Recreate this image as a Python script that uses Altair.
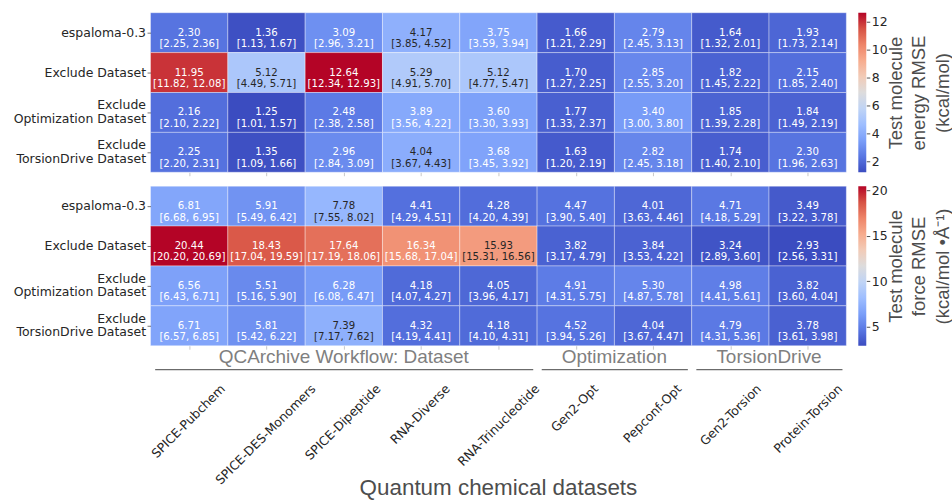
import altair as alt
import pandas as pd
import numpy as np

datasets = ["SPICE-Pubchem", "SPICE-DES-Monomers", "SPICE-Dipeptide", "RNA-Diverse",
            "RNA-Trinucleotide", "Gen2-Opt", "Pepconf-Opt", "Gen2-Torsion", "Protein-Torsion"]
models = ["espaloma-0.3", "Exclude Dataset", "Exclude\nOptimization Dataset", "Exclude\nTorsionDrive Dataset"]

group_names = ["QCArchive Workflow: Dataset", "Optimization", "TorsionDrive"]
group_start = [0, 5, 7]
group_end = [5, 7, 9]

energy_mean = [
    [2.30, 1.36, 3.09, 4.17, 3.75, 1.66, 2.79, 1.64, 1.93],
    [11.95, 5.12, 12.64, 5.29, 5.12, 1.70, 2.85, 1.82, 2.15],
    [2.16, 1.25, 2.48, 3.89, 3.60, 1.77, 3.40, 1.85, 1.84],
    [2.25, 1.35, 2.96, 4.04, 3.68, 1.63, 2.82, 1.74, 2.30],
]
energy_lo = [
    [2.25, 1.13, 2.96, 3.85, 3.59, 1.21, 2.45, 1.32, 1.73],
    [11.82, 4.49, 12.34, 4.91, 4.77, 1.27, 2.55, 1.45, 1.85],
    [2.10, 1.01, 2.38, 3.56, 3.30, 1.33, 3.00, 1.39, 1.49],
    [2.20, 1.09, 2.84, 3.67, 3.45, 1.20, 2.45, 1.40, 1.96],
]
energy_hi = [
    [2.36, 1.67, 3.21, 4.52, 3.94, 2.29, 3.13, 2.01, 2.14],
    [12.08, 5.71, 12.93, 5.70, 5.47, 2.25, 3.20, 2.22, 2.40],
    [2.22, 1.57, 2.58, 4.22, 3.93, 2.37, 3.80, 2.28, 2.19],
    [2.31, 1.66, 3.09, 4.43, 3.92, 2.19, 3.18, 2.10, 2.63],
]
force_mean = [
    [6.81, 5.91, 7.78, 4.41, 4.28, 4.47, 4.01, 4.71, 3.49],
    [20.44, 18.43, 17.64, 16.34, 15.93, 3.82, 3.84, 3.24, 2.93],
    [6.56, 5.51, 6.28, 4.18, 4.05, 4.91, 5.30, 4.98, 3.82],
    [6.71, 5.81, 7.39, 4.32, 4.18, 4.52, 4.04, 4.79, 3.78],
]
force_lo = [
    [6.68, 5.49, 7.55, 4.29, 4.20, 3.90, 3.63, 4.18, 3.22],
    [20.20, 17.04, 17.19, 15.68, 15.31, 3.17, 3.53, 2.89, 2.56],
    [6.43, 5.16, 6.08, 4.07, 3.96, 4.31, 4.87, 4.41, 3.60],
    [6.57, 5.42, 7.17, 4.19, 4.10, 3.94, 3.67, 4.31, 3.61],
]
force_hi = [
    [6.95, 6.42, 8.02, 4.51, 4.39, 5.40, 4.46, 5.29, 3.78],
    [20.69, 19.59, 18.06, 17.04, 16.56, 4.79, 4.22, 3.60, 3.31],
    [6.71, 5.90, 6.47, 4.27, 4.17, 5.75, 5.78, 5.61, 4.04],
    [6.85, 6.22, 7.62, 4.41, 4.31, 5.26, 4.47, 5.36, 3.98],
]

energy_ticks = [2, 4, 6, 8, 10, 12]
force_ticks = [5, 10, 15, 20]
energy_title = ["Test molecule", "energy RMSE", "(kcal/mol)"]
force_title = ["Test molecule", "force RMSE", "(kcal/mol \u2022\u00c5\u207b\u00b9)"]
x_title = "Quantum chemical datasets"

# ---------------- styling helpers ----------------
COOLWARM = ["#3b4cc0", "#5977e3", "#7b9ff9", "#9ebeff", "#c0d4f5", "#dddcdc",
            "#f2cbb7", "#f7ac8e", "#ee8468", "#d65244", "#b40426"]
W, H = 698, 160
NCOL = len(datasets)
LABEL_FS = 12.5


def hex2rgb(h):
    return [int(h[i:i + 2], 16) / 255 for i in (1, 3, 5)]


def cmap(t):
    t = min(max(t, 0.0), 1.0) * (len(COOLWARM) - 1)
    i = min(int(t), len(COOLWARM) - 2)
    f = t - i
    a, b = hex2rgb(COOLWARM[i]), hex2rgb(COOLWARM[i + 1])
    return [a[k] + (b[k] - a[k]) * f for k in range(3)]


def text_color(v, vmin, vmax):
    rgb = cmap((v - vmin) / (vmax - vmin))
    lin = [c / 12.92 if c <= 0.03928 else ((c + 0.055) / 1.055) ** 2.4 for c in rgb]
    lum = 0.2126 * lin[0] + 0.7152 * lin[1] + 0.0722 * lin[2]
    return "#262626" if lum > 0.408 else "#ffffff"


# DejaVu Sans advance widths (em) to centre rotated labels like matplotlib
CW = {"A": .684, "C": .698, "D": .770, "E": .632, "G": .775, "I": .295, "M": .863, "N": .748,
      "O": .787, "P": .603, "R": .695, "S": .635, "T": .611, "2": .636, "-": .361, "b": .635,
      "c": .550, "d": .635, "e": .615, "f": .352, "h": .634, "i": .278, "l": .278, "m": .974,
      "n": .634, "o": .612, "p": .635, "r": .411, "s": .521, "t": .392, "u": .634, "v": .592}


def build_df(mean, lo, hi):
    vals = np.array(mean)
    vmin, vmax = float(vals.min()), float(vals.max())
    rows = []
    for r, m in enumerate(models):
        for c, d in enumerate(datasets):
            v = mean[r][c]
            rows.append(dict(model=m, x0=c, x1=c + 1, xc=c + 0.5, v=v,
                             label=f"{v:.2f}\n[{lo[r][c]:.2f}, {hi[r][c]:.2f}]",
                             tc=text_color(v, vmin, vmax)))
    return pd.DataFrame(rows), vmin, vmax


xs = alt.Scale(domain=[0, NCOL], nice=False, zero=False)
XAXIS = alt.Axis(values=[i + 0.5 for i in range(NCOL)], labels=False, ticks=True, tickSize=3.5,
                 tickColor="#c8c8c8", domain=False, grid=False, title=None)
YAXIS = alt.Axis(title=None, labelExpr="split(datum.label, '\\n')", labelFont="DejaVu Sans",
                 labelFontSize=LABEL_FS, labelColor="#262626", labelLineHeight=13.5,
                 labelOffset={"condition": {"test": "indexof(datum.value, '\\n') >= 0", "value": -7},
                              "value": 0},
                 tickSize=3.5, tickColor="#555555", tickWidth=0.8, domain=False,
                 labelPadding=1.5, labelLimit=400, grid=False)


def heatmap_layers(df, vmin, vmax):
    base = alt.Chart(df)
    stops = list(np.linspace(vmin, vmax, len(COOLWARM)))
    rect = base.mark_rect(stroke="white", strokeWidth=0.8, strokeOpacity=0.45).encode(
        x=alt.X("x0:Q", scale=xs, axis=XAXIS),
        x2="x1:Q",
        y=alt.Y("model:N", sort=models, axis=YAXIS),
        color=alt.Color("v:Q", scale=alt.Scale(domain=stops, range=COOLWARM, interpolate="rgb"),
                        legend=None),
    )
    text = base.transform_calculate(lines="split(datum.label, '\\n')").mark_text(
        font="DejaVu Sans", fontSize=10.2, lineHeight=11.5, baseline="middle", align="center"
    ).encode(
        x=alt.X("xc:Q", scale=xs, axis=XAXIS),
        y=alt.Y("model:N", sort=models, axis=YAXIS),
        text="lines:N",
        color=alt.Color("tc:N", scale=None),
    )
    return [rect, text]


def colorbar(vmin, vmax, ticks, title):
    d = pd.DataFrame({"lo": [vmin], "hi": [vmax]})
    grad = alt.LinearGradient(
        gradient="linear",
        stops=[alt.GradientStop(color=c, offset=i / (len(COOLWARM) - 1)) for i, c in enumerate(COOLWARM)],
        x1=0, x2=0, y1=1, y2=0)
    return alt.Chart(d).mark_rect(color=grad).encode(
        x=alt.value(0), x2=alt.value(8),
        y=alt.Y("lo:Q", scale=alt.Scale(domain=[vmin, vmax], nice=False, zero=False),
                axis=alt.Axis(orient="right", values=ticks, title=title, titleAngle=270,
                              titleBaseline="top", titleAlign="center",
                              titleX=20, titleY=H / 2,
                              titleFont="Liberation Sans", titleFontSize=18.5,
                              titleFontWeight="normal", titleColor="#4d4d4d", titleLineHeight=23.5,
                              labelFont="DejaVu Sans", labelFontSize=LABEL_FS,
                              labelColor="#262626", tickSize=3.5, tickColor="#262626",
                              tickWidth=0.8, domain=False, grid=False, labelPadding=1.5)),
        y2="hi:Q",
    ).properties(width=8, height=H)


e_df, e_min, e_max = build_df(energy_mean, energy_lo, energy_hi)
f_df, f_min, f_max = build_df(force_mean, force_lo, force_hi)

# group annotations under the lower panel
g_df = pd.DataFrame({"name": group_names, "start": group_start, "end": group_end})
g_df["mid"] = (g_df["start"] + g_df["end"]) / 2
g_df["lo"] = g_df["start"] + 0.06
g_df["hi"] = g_df["end"] - 0.05

grp_text = alt.Chart(g_df).mark_text(font="Liberation Sans", fontSize=19, color="#7f7f7f",
                                     baseline="middle").encode(
    x=alt.X("mid:Q", scale=xs, axis=XAXIS), y=alt.value(H + 11), text="name:N")
grp_line = alt.Chart(g_df).mark_rule(color="#6b6b6b", strokeWidth=1.5).encode(
    x=alt.X("lo:Q", scale=xs, axis=XAXIS), x2="hi:Q", y=alt.value(H + 24))

# rotated tick labels (centred on ticks like matplotlib)
lab_rows = []
for c, d in enumerate(datasets):
    L = LABEL_FS * sum(CW.get(ch, 0.6) for ch in d)
    off_px = 0.354 * L - 0.354 * LABEL_FS * 1.16
    lab_rows.append(dict(name=d, lx=c + 0.5 + off_px * NCOL / W))
lab_df = pd.DataFrame(lab_rows)
xlabels = alt.Chart(lab_df).mark_text(font="DejaVu Sans", fontSize=LABEL_FS, color="#262626",
                                      angle=315, align="right", baseline="top").encode(
    x=alt.X("lx:Q", scale=xs, axis=XAXIS), y=alt.value(H + 37), text="name:N")

xtitle = alt.Chart(pd.DataFrame({"t": [x_title]})).mark_text(
    font="Liberation Sans", fontSize=22.5, color="#4d4d4d", baseline="middle").encode(
    x=alt.value(W / 2), y=alt.value(H + 143), text="t:N")

top = alt.layer(*heatmap_layers(e_df, e_min, e_max)).properties(width=W, height=H)
bottom = alt.layer(*heatmap_layers(f_df, f_min, f_max), grp_text, grp_line, xlabels, xtitle
                   ).properties(width=W, height=H)

row1 = alt.hconcat(top, colorbar(e_min, e_max, energy_ticks, energy_title), spacing=11
                   ).resolve_scale(color="independent", x="independent", y="independent")
row2 = alt.hconcat(bottom, colorbar(f_min, f_max, force_ticks, force_title), spacing=11
                   ).resolve_scale(color="independent", x="independent", y="independent")

chart = alt.vconcat(row1, row2, spacing=8).resolve_scale(
    color="independent", x="independent", y="independent"
).properties(
    padding={"left": 13, "top": 11, "right": 0, "bottom": 0}, background="white"
).configure_view(stroke=None)

chart.save("out.html", embed_options={"renderer": "svg", "actions": False})
